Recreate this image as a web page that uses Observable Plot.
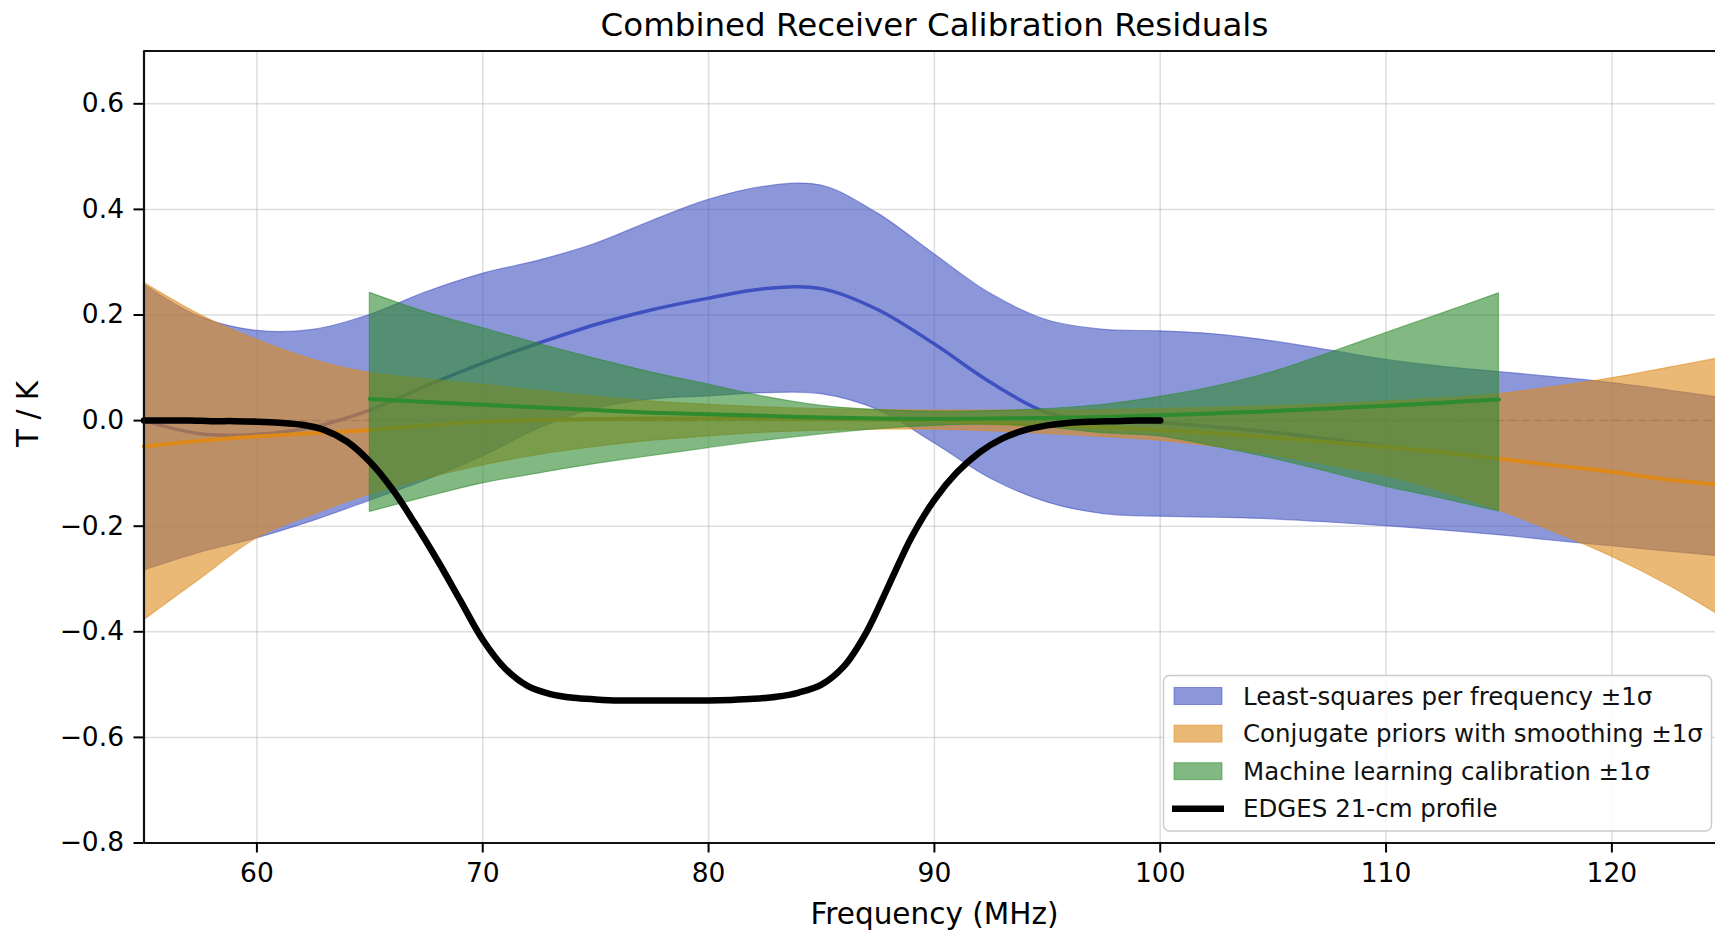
<!DOCTYPE html>
<html>
<head>
<meta charset="utf-8">
<script src="https://cdn.jsdelivr.net/npm/d3@7"></script>
<script src="https://cdn.jsdelivr.net/npm/@observablehq/plot@0.6"></script>
<style>
  html, body { margin: 0; padding: 0; background: white; overflow: hidden; }
  #chart { width: 1715px; height: 934px; position: relative; }
</style>
</head>
<body>
<div id="chart"></div>
<script>
// ---------- data ----------
const titleText = "Combined Receiver Calibration Residuals";
const xLabel = "Frequency (MHz)";
const yLabel = "T / K";
const xTicks = [60, 70, 80, 90, 100, 110, 120];
const yTicks = [-0.8, -0.6, -0.4, -0.2, 0.0, 0.2, 0.4, 0.6];

// frequency grid for least-squares and conjugate-prior bands (MHz)
const bandFreq = [55, 57.5, 60, 62.5, 65, 67.5, 70, 72.5, 75, 77.5, 80, 82.5, 85, 87.5, 90,
  92.5, 95, 97.5, 100, 102.5, 105, 107.5, 110, 112.5, 115, 117.5, 120, 122.5, 125];

// Least-squares per frequency
const lsqUpper = [0.258, 0.196, 0.17, 0.172, 0.2, 0.243, 0.278, 0.303, 0.335, 0.378, 0.418, 0.443, 0.445, 0.392, 0.315,
  0.24, 0.19, 0.172, 0.169, 0.163, 0.15, 0.133, 0.115, 0.102, 0.092, 0.082, 0.071, 0.057, 0.042];
const lsqLower = [-0.284, -0.25, -0.223, -0.19, -0.152, -0.113, -0.068, -0.015, 0.022, 0.04, 0.046, 0.052, 0.05, 0.02, -0.043,
  -0.11, -0.155, -0.177, -0.182, -0.184, -0.187, -0.193, -0.2, -0.208, -0.217, -0.228, -0.238, -0.248, -0.258];
const lsqMean = [0.0, -0.025, -0.026, -0.012, 0.02, 0.066, 0.109, 0.147, 0.182, 0.21, 0.232, 0.25, 0.25, 0.21, 0.145,
  0.072, 0.015, -0.002, -0.004, -0.012, -0.022, -0.035, -0.049, -0.06, -0.072, -0.085, -0.097, -0.112, -0.122];

// Conjugate priors with smoothing
const cpUpper = [0.261, 0.2, 0.153, 0.115, 0.09, 0.078, 0.068, 0.056, 0.045, 0.036, 0.03, 0.025, 0.022, 0.02, 0.019,
  0.019, 0.019, 0.02, 0.022, 0.024, 0.027, 0.031, 0.036, 0.042, 0.05, 0.064, 0.08, 0.1, 0.12];
const cpLower = [-0.378, -0.3, -0.223, -0.178, -0.14, -0.11, -0.085, -0.065, -0.05, -0.038, -0.03, -0.023, -0.019, -0.017, -0.017,
  -0.02, -0.025, -0.031, -0.038, -0.05, -0.066, -0.085, -0.105, -0.135, -0.17, -0.212, -0.258, -0.312, -0.375];
const cpMean = [-0.049, -0.038, -0.03, -0.024, -0.018, -0.009, -0.002, 0.001, 0.003, 0.004, 0.004, 0.004, 0.003, 0.002, 0.0,
  -0.004, -0.008, -0.013, -0.018, -0.024, -0.032, -0.041, -0.05, -0.06, -0.072, -0.085, -0.097, -0.112, -0.122];

// Machine learning calibration (65–115 MHz)
const mlFreq = [65, 67.5, 70, 72.5, 75, 77.5, 80, 82.5, 85, 87.5, 90, 92.5, 95, 97.5, 100, 102.5, 105, 107.5, 110, 112.5, 115];
const mlUpper = [0.242, 0.205, 0.175, 0.145, 0.117, 0.091, 0.068, 0.045, 0.028, 0.02, 0.017, 0.018, 0.022, 0.03, 0.045,
  0.065, 0.092, 0.128, 0.166, 0.203, 0.241];
const mlLower = [-0.173, -0.145, -0.119, -0.1, -0.082, -0.067, -0.052, -0.038, -0.026, -0.016, -0.01, -0.008, -0.013, -0.024, -0.03,
  -0.05, -0.072, -0.098, -0.125, -0.148, -0.172];
const mlMean = [0.041, 0.035, 0.03, 0.025, 0.02, 0.015, 0.012, 0.009, 0.006, 0.004, 0.003, 0.004, 0.005, 0.007, 0.01,
  0.014, 0.018, 0.023, 0.028, 0.034, 0.04];

// EDGES 21-cm absorption profile (55–100 MHz)
const edgesFreq = [55, 56, 57, 58, 59, 60, 61, 62, 63, 64, 65, 66, 67, 68, 69, 70, 71, 72, 73, 74, 75, 76, 77,
  78, 79, 80, 81, 82, 83, 84, 85, 86, 87, 88, 89, 90, 91, 92, 93, 94, 95, 96, 97, 98, 99, 100];
const edgesT = [0, 0, 0, -0.001, -0.001, -0.002, -0.004, -0.008, -0.018, -0.04, -0.078, -0.13, -0.195, -0.265, -0.34, -0.415,
  -0.47, -0.503, -0.518, -0.525, -0.528, -0.53, -0.53, -0.53, -0.53, -0.53, -0.529, -0.527, -0.523, -0.515, -0.5, -0.465,
  -0.4, -0.31, -0.22, -0.15, -0.098, -0.06, -0.034, -0.018, -0.009, -0.004, -0.002, -0.001, 0, 0];

const seriesNames = [
  "Least-squares per frequency \u00b11\u03c3",
  "Conjugate priors with smoothing \u00b11\u03c3",
  "Machine learning calibration \u00b11\u03c3",
  "EDGES 21-cm profile"
];
const seriesColors = ["#3f51c0", "#dd8a1a", "#2e8b2e", "#000000"];

// ---------- tables ----------
const lsq = bandFreq.map((f, i) => ({f, lo: lsqLower[i], hi: lsqUpper[i], mid: lsqMean[i]}));
const cp = bandFreq.map((f, i) => ({f, lo: cpLower[i], hi: cpUpper[i], mid: cpMean[i]}));
const ml = mlFreq.map((f, i) => ({f, lo: mlLower[i], hi: mlUpper[i], mid: mlMean[i]}));
const edges = edgesFreq.map((f, i) => ({f, t: edgesT[i]}));

const FONT = "DejaVu Sans";
const fmt = d => (Math.abs(d) < 1e-9 ? "0.0" : d.toFixed(1).replace("-", "\u2212"));
const fillOp = 0.6;
const CURVE = "catmull-rom";

function band(data, color) {
  return Plot.areaY(data, {x: "f", y1: "lo", y2: "hi", fill: color, fillOpacity: fillOp,
    stroke: color, strokeOpacity: 0.55, strokeWidth: 1.2, curve: CURVE});
}
function meanLine(data, color, w) {
  return Plot.lineY(data, {x: "f", y: "mid", stroke: color, strokeWidth: w, curve: CURVE});
}

const chart = Plot.plot({
  width: 1715,
  height: 934,
  marginLeft: 143.5,
  marginRight: 0,
  marginTop: 50.5,
  marginBottom: 91.5,
  style: {fontFamily: FONT, fontSize: "26.5px", overflow: "hidden", background: "white", color: "black"},
  x: {domain: [55, 125], range: [143.5, 1724.3]},
  y: {domain: [-0.8, 0.7], range: [842.5, 50.5]},
  marks: [
    Plot.gridX(xTicks, {stroke: "#b0b0b0", strokeOpacity: 0.42, strokeWidth: 1.5}),
    Plot.gridY(yTicks, {stroke: "#b0b0b0", strokeOpacity: 0.42, strokeWidth: 1.5}),
    Plot.ruleY([0], {stroke: "#808080", strokeOpacity: 0.8, strokeWidth: 1.5, strokeDasharray: "8,5"}),
    band(lsq, seriesColors[0]),
    meanLine(lsq, seriesColors[0], 3.5),
    band(cp, seriesColors[1]),
    meanLine(cp, seriesColors[1], 4),
    band(ml, seriesColors[2]),
    meanLine(ml, seriesColors[2], 4),
    Plot.lineY(edges, {x: "f", y: "t", stroke: seriesColors[3], strokeWidth: 6.5, curve: CURVE}),
    // frame spines
    Plot.ruleX([55], {stroke: "#111", strokeWidth: 2.2}),
    Plot.ruleY([-0.8, 0.7], {stroke: "#111", strokeWidth: 2.2}),
    // axes
    Plot.axisX(xTicks, {tickSize: 10, tickPadding: 10, tickFormat: d => String(d), fontSize: 26.5,
      strokeWidth: 2, label: null}),
    Plot.axisY(yTicks, {tickSize: 10, tickPadding: 10, tickFormat: fmt, fontSize: 26.5,
      strokeWidth: 2, label: null}),
    // title and axis labels
    Plot.text([titleText], {frameAnchor: "top", dx: 4.7, dy: -25, fontSize: 32.5, lineAnchor: "middle"}),
    Plot.text([xLabel], {frameAnchor: "bottom", dx: 4.7, dy: 72, fontSize: 29.5, lineAnchor: "middle"}),
    Plot.text([yLabel], {frameAnchor: "left", dx: -115, rotate: -90, fontSize: 29.5, lineAnchor: "middle"})
  ]
});

document.getElementById("chart").appendChild(chart);

// ---------- legend ----------
const svg = d3.select(chart);
const lg = svg.append("g").attr("font-family", FONT).attr("font-size", 24.5).attr("text-anchor", "start");
lg.append("rect")
  .attr("x", 1163.5).attr("y", 675.5).attr("width", 548).attr("height", 155.5)
  .attr("rx", 6).attr("fill", "white").attr("fill-opacity", 0.8)
  .attr("stroke", "#cccccc").attr("stroke-width", 1.5);
const rowY = i => 696 + i * 37.6;
seriesNames.forEach((name, i) => {
  if (i < 3) {
    lg.append("rect").attr("x", 1174).attr("y", rowY(i) - 8.5).attr("width", 48).attr("height", 17)
      .attr("fill", seriesColors[i]).attr("fill-opacity", fillOp)
      .attr("stroke", seriesColors[i]).attr("stroke-opacity", 0.55).attr("stroke-width", 1);
  } else {
    lg.append("line").attr("x1", 1172).attr("x2", 1224).attr("y1", rowY(i)).attr("y2", rowY(i))
      .attr("stroke", seriesColors[i]).attr("stroke-width", 6.5);
  }
  lg.append("text").attr("x", 1243).attr("y", rowY(i)).attr("dy", "0.35em")
    .attr("text-anchor", "start").attr("fill", "#111").text(name);
});
</script>
</body>
</html>
